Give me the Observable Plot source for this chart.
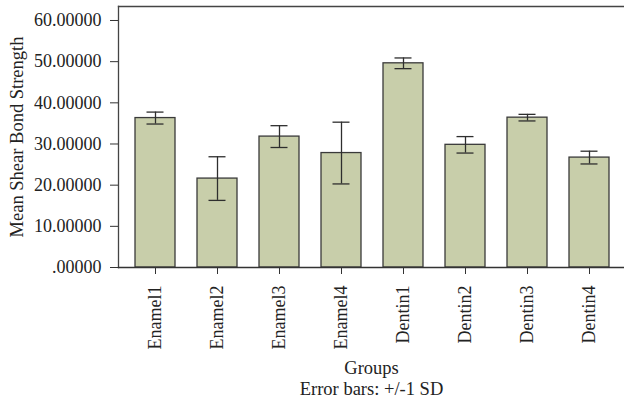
<!DOCTYPE html>
<html>
<head>
<meta charset="utf-8">
<script src="https://cdn.jsdelivr.net/npm/d3@7"></script>
<script src="https://cdn.jsdelivr.net/npm/@observablehq/plot@0.6"></script>
<style>
  html, body { margin: 0; padding: 0; background: #fff; }
  #chart svg { display: block; }
</style>
</head>
<body>
<div id="chart"></div>
<script>
const groups = ["Enamel1", "Enamel2", "Enamel3", "Enamel4", "Dentin1", "Dentin2", "Dentin3", "Dentin4"];
const means  = [36.3, 21.6, 31.8, 27.8, 49.6, 29.8, 36.4, 26.7];
const sds    = [1.45, 5.3, 2.65, 7.5, 1.3, 2.0, 0.8, 1.55];
const yTicks = [0, 10, 20, 30, 40, 50, 60];

const data = groups.map((g, i) => ({group: g, mean: means[i], lo: means[i] - sds[i], hi: means[i] + sds[i]}));

const font = "Liberation Serif, Times New Roman, serif";
const ink = "#2e2e2e";

const chart = Plot.plot({
  width: 624,
  height: 402,
  marginTop: 6,
  marginBottom: 135,
  marginLeft: 118,
  marginRight: 0,
  style: {fontFamily: font, fontSize: "18px", color: "#222", background: "#fff"},
  x: {domain: groups, paddingInner: 0.36, paddingOuter: 0.18, insetLeft: 4, insetRight: 2, label: null},
  y: {domain: [0, 63.4], label: null},
  marks: [
    Plot.barY(data, {x: "group", y: "mean", fill: "#c8ceaa", stroke: "#3a3a3a", strokeWidth: 1.3}),
    Plot.ruleX(data, {x: "group", y1: "lo", y2: "hi", stroke: ink, strokeWidth: 1.3}),
    Plot.tickY(data, {x: "group", y: "lo", stroke: ink, strokeWidth: 1.3, insetLeft: 11.5, insetRight: 11.5}),
    Plot.tickY(data, {x: "group", y: "hi", stroke: ink, strokeWidth: 1.3, insetLeft: 11.5, insetRight: 11.5}),
    Plot.frame({anchor: "top", stroke: "#444", strokeWidth: 1.3}),
    Plot.frame({anchor: "left", stroke: "#444", strokeWidth: 1.3}),
    Plot.frame({anchor: "bottom", stroke: "#333", strokeWidth: 1.3}),
    Plot.axisY(yTicks, {tickSize: 8, tickPadding: 9, tickFormat: d => d === 0 ? ".00000" : d.toFixed(5), stroke: "#333", fontSize: 18, label: null}),
    Plot.axisX({tickSize: 7, tickRotate: -90, tickPadding: 11, stroke: "#333", fontSize: 18, label: null}),
    Plot.text(["Mean Shear Bond Strength"], {frameAnchor: "left", textAnchor: "middle", rotate: -90, dx: -101, fontSize: 18.5, fill: "#222"}),
    Plot.text(["Groups"], {frameAnchor: "bottom", lineAnchor: "middle", dy: 101, fontSize: 18.5, fill: "#222"}),
    Plot.text(["Error bars: +/-1 SD"], {frameAnchor: "bottom", lineAnchor: "middle", dy: 121.5, fontSize: 18.5, fill: "#222"})
  ]
});
document.getElementById("chart").appendChild(chart);
</script>
</body>
</html>
